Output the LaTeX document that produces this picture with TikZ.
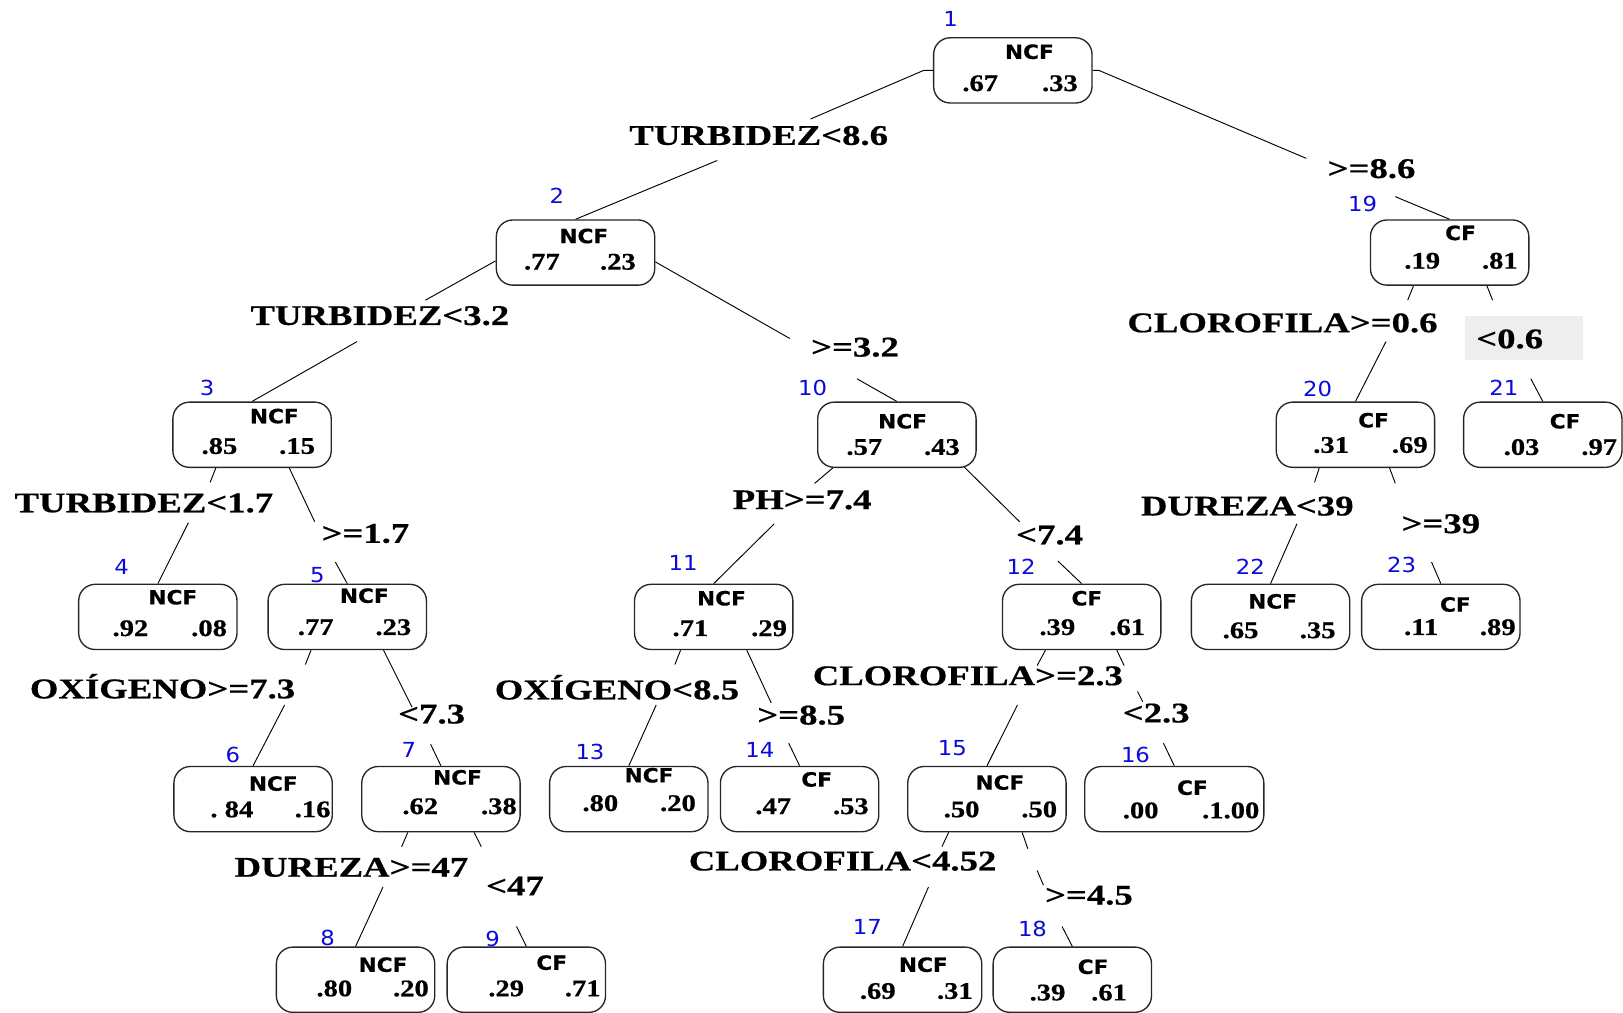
\documentclass[tikz,border=0pt]{standalone}
\usepackage{fontspec}
\usetikzlibrary{calc}
\newfontfamily\lblfont{Liberation Serif}[FakeStretch=1.29, BoldFeatures={FakeBold=0.6}]
\newfontfamily\numfont{Liberation Serif}[FakeStretch=1.2, BoldFeatures={FakeBold=0.7}]
\newfontfamily\clsfont{DejaVu Sans}[FakeStretch=1.1, BoldFeatures={FakeBold=0.5}]
\definecolor{idblue}{RGB}{10,10,220}
\definecolor{lblbg}{RGB}{238,238,238}
\pgfdeclarelayer{bg}
\pgfsetlayers{bg,main}
\tikzset{
  box/.style={draw=black!85, line width=1.3pt, rounded corners=16pt, fill=white,
    minimum width=153pt, minimum height=63pt, inner sep=0pt},
  cls/.style={font=\clsfont\bfseries\fontsize{19}{19}\selectfont, inner sep=0pt},
  num/.style={font=\numfont\bfseries\fontsize{23}{23}\selectfont, inner sep=0pt},
  idn/.style={font=\clsfont\fontsize{20}{20}\selectfont, text=idblue, inner sep=0pt},
  lbl/.style={font=\lblfont\bfseries\fontsize{27.5}{28}\selectfont, inner sep=0pt},
  edge/.style={line width=0.9pt, draw=black},
}
\begin{document}
\begin{tikzpicture}[x=1pt,y=-1pt]
\useasboundingbox (0,0) rectangle (1568,978);
% ---- boxes
\node[box] (n1) at (978.5,68) {};
\node[box] (n2) at (556,244) {};
\node[box] (n3) at (243.5,420) {};
\node[box] (n4) at (152.5,596) {};
\node[box] (n5) at (335.5,596) {};
\node[box] (n6) at (244.5,772) {};
\node[box] (n7) at (426,772) {};
\node[box] (n8) at (343.5,946.5) {};
\node[box] (n9) at (508.5,946.5) {};
\node[box] (n10) at (866.5,420) {};
\node[box] (n11) at (689.5,596) {};
\node[box] (n12) at (1045,596) {};
\node[box] (n13) at (607.5,772) {};
\node[box] (n14) at (772.5,772) {};
\node[box] (n15) at (953.5,772) {};
\node[box,minimum width=173pt] (n16) at (1134.5,772) {};
\node[box] (n17) at (872,946.5) {};
\node[box] (n18) at (1036,946.5) {};
\node[box] (n19) at (1400.5,244) {};
\node[box] (n20) at (1309.5,420) {};
\node[box] (n21) at (1490.5,420) {};
\node[box] (n22) at (1227.5,596) {};
\node[box] (n23) at (1392,596) {};
% ---- box texts
\node[cls] (c1) at (994.5,50) {NCF}; \node[num] (l1) at (947,80.5) {.67}; \node[num] (r1) at (1024,80.5) {.33};
\node[cls] (c2) at (564,228) {NCF}; \node[num] (l2) at (523.5,253) {.77}; \node[num] (r2) at (597,253) {.23};
\node[cls] (c3) at (265,402) {NCF}; \node[num] (l3) at (212,431) {.85}; \node[num] (r3) at (287,431) {.15};
\node[cls] (c4) at (167,577) {NCF}; \node[num] (l4) at (126,607) {.92}; \node[num] (r4) at (202,607) {.08};
\node[cls] (c5) at (352,575.5) {NCF}; \node[num] (l5) at (305,606) {.77}; \node[num] (r5) at (380,606) {.23};
\node[cls] (c6) at (264,757) {NCF}; \node[num] (l6) at (224,782) {.\ 84}; \node[num] (r6) at (302,782) {.16};
\node[cls] (c7) at (442,751) {NCF}; \node[num] (l7) at (406,779) {.62}; \node[num] (r7) at (482,779) {.38};
\node[cls] (c8) at (370,932) {NCF}; \node[num] (l8) at (323,955) {.80}; \node[num] (r8) at (397,955) {.20};
\node[cls] (c9) at (533,930) {CF}; \node[num] (l9) at (489,955) {.29}; \node[num] (r9) at (563,955) {.71};
\node[cls] (c10) at (872,407) {NCF}; \node[num] (l10) at (835,432) {.57}; \node[num] (r10) at (910,432) {.43};
\node[cls] (c11) at (697,578) {NCF}; \node[num] (l11) at (667,607) {.71}; \node[num] (r11) at (743,607) {.29};
\node[cls] (c12) at (1050,578) {CF}; \node[num] (l12) at (1021.5,606) {.39}; \node[num] (r12) at (1089,606) {.61};
\node[cls] (c13) at (627,749) {NCF}; \node[num] (l13) at (580,776) {.80}; \node[num] (r13) at (655,776) {.20};
\node[cls] (c14) at (789,753) {CF}; \node[num] (l14) at (747,779) {.47}; \node[num] (r14) at (822,779) {.53};
\node[cls] (c15) at (966,756) {NCF}; \node[num] (l15) at (929,782) {.50}; \node[num] (r15) at (1004,782) {.50};
\node[cls] (c16) at (1152,761) {CF}; \node[num] (l16) at (1102,783) {.00}; \node[num] (r16) at (1189,783) {.1.00};
\node[cls] (c17) at (892,932) {NCF}; \node[num] (l17) at (848,957.5) {.69}; \node[num] (r17) at (922.5,957.5) {.31};
\node[cls] (c18) at (1056,934) {CF}; \node[num] (l18) at (1012,959) {.39}; \node[num] (r18) at (1071.5,959) {.61};
\node[cls] (c19) at (1411,225) {CF}; \node[num] (l19) at (1374,252) {.19}; \node[num] (r19) at (1449,252) {.81};
\node[cls] (c20) at (1327,406) {CF}; \node[num] (l20) at (1286,430) {.31}; \node[num] (r20) at (1362,430) {.69};
\node[cls] (c21) at (1512,407) {CF}; \node[num] (l21) at (1470,432) {.03}; \node[num] (r21) at (1545,432) {.97};
\node[cls] (c22) at (1229.5,581) {NCF}; \node[num] (l22) at (1198.5,609) {.65}; \node[num] (r22) at (1273,609) {.35};
\node[cls] (c23) at (1406,584) {CF}; \node[num] (l23) at (1373,606) {.11}; \node[num] (r23) at (1447,606) {.89};
% ---- node ids
\node[idn] (i1) at (918.5,18) {1};
\node[idn] (i2) at (538,189.5) {2};
\node[idn] (i3) at (200,375) {3};
\node[idn] (i4) at (117.5,548) {4};
\node[idn] (i5) at (306.5,556) {5};
\node[idn] (i6) at (225,729) {6};
\node[idn] (i7) at (395,725) {7};
\node[idn] (i8) at (316.5,906) {8};
\node[idn] (i9) at (476,907.5) {9};
\node[idn] (i10) at (785,375) {10};
\node[idn] (i11) at (660,544) {11};
\node[idn] (i12) at (986.5,548) {12};
\node[idn] (i13) at (570,726) {13};
\node[idn] (i14) at (734,725) {14};
\node[idn] (i15) at (920,723) {15};
\node[idn] (i16) at (1097,729.5) {16};
\node[idn] (i17) at (838,896) {17};
\node[idn] (i18) at (997.5,897) {18};
\node[idn] (i19) at (1316.5,197.5) {19};
\node[idn] (i20) at (1273,376) {20};
\node[idn] (i21) at (1453,375) {21};
\node[idn] (i22) at (1208,548) {22};
\node[idn] (i23) at (1354,546) {23};
% ---- split labels
\node[lbl] (s12) at (733,131) {TURBIDEZ<8.6};
\node[lbl] (s119) at (1325,163) {>=8.6};
\node[lbl] (s23) at (367,305) {TURBIDEZ<3.2};
\node[lbl] (s210) at (826,335.5) {>=3.2};
\node[lbl] (s1920) at (1239,312) {CLOROFILA>=0.6};
\node[fill=lblbg, minimum width=114pt, minimum height=43pt, inner sep=0pt] (s1921bg) at (1472,326.5) {};
\node[lbl] (s1921) at (1458.5,327.5) {<0.6};
\node[lbl] (s34) at (139,486) {TURBIDEZ<1.7};
\node[lbl] (s35) at (353,515.5) {>=1.7};
\node[lbl] (s1011) at (775,483) {PH>=7.4};
\node[lbl] (s1012) at (1014,517) {<7.4};
\node[lbl] (s2022) at (1205,489) {DUREZA<39};
\node[lbl] (s2023) at (1392,506) {>=39};
\node[lbl] (s56) at (157,663) {OXÍGENO>=7.3};
\node[lbl] (s57) at (417,690) {<7.3};
\node[lbl] (s1113) at (596,664) {OXÍGENO<8.5};
\node[lbl] (s1114) at (774,691) {>=8.5};
\node[lbl] (s1215) at (935,653) {CLOROFILA>=2.3};
\node[lbl] (s1216) at (1117,689) {<2.3};
\node[lbl] (s78) at (339.5,838) {DUREZA>=47};
\node[lbl] (s79) at (497.5,856) {<47};
\node[lbl] (s1517) at (814,832) {CLOROFILA<4.52};
\node[lbl] (s1518) at (1052,865) {>=4.5};
% ---- gap coordinates
\coordinate (g12a) at (783,115); \coordinate (g12b) at (693,155);
\coordinate (g119a) at (1262,153); \coordinate (g119b) at (1348,190);
\coordinate (g23a) at (411,290); \coordinate (g23b) at (345,330);
\coordinate (g210a) at (763,327); \coordinate (g210b) at (828,366);
\coordinate (g34a) at (203,466); \coordinate (g34b) at (182,505);
\coordinate (g35a) at (304,504); \coordinate (g35b) at (324,543);
\coordinate (g1011a) at (787,467); \coordinate (g1011b) at (748,506);
\coordinate (g1012a) at (985,504); \coordinate (g1012b) at (1022,542);
\coordinate (g1920a) at (1360,290); \coordinate (g1920b) at (1339,330);
\coordinate (g1921a) at (1442,290); \coordinate (g1921b) at (1479,366);
\coordinate (g2022a) at (1270,466); \coordinate (g2022b) at (1253,506);
\coordinate (g2023a) at (1348,467); \coordinate (g2023b) at (1383,543);
\coordinate (g56a) at (295,642); \coordinate (g56b) at (275,681);
\coordinate (g57a) at (398,683); \coordinate (g57b) at (416,719);
\coordinate (g1113a) at (652,642); \coordinate (g1113b) at (634,681);
\coordinate (g1114a) at (745,679); \coordinate (g1114b) at (762,718);
\coordinate (g1215a) at (1002,643); \coordinate (g1215b) at (983,681);
\coordinate (g1216a) at (1086,643); \coordinate (g1216c) at (1099,668);
\coordinate (g1216d) at (1104,678); \coordinate (g1216b) at (1124,718);
\coordinate (g78a) at (388,818); \coordinate (g78b) at (370,857);
\coordinate (g79a) at (465,818); \coordinate (g79b) at (499,895);
\coordinate (g1517a) at (910,818); \coordinate (g1517b) at (897,857);
\coordinate (g1518a) at (993,820); \coordinate (g1518c) at (1002,841);
\coordinate (g1518d) at (1008,855); \coordinate (g1518b) at (1026,895);
% ---- connectors
\begin{pgfonlayer}{bg}
\draw[edge] (n1.west) -- ++(-9,0) -- (g12a); \draw[edge] (g12b) -- (n2.north);
\draw[edge] (n1.east) -- ++(6,0) -- (g119a); \draw[edge] (g119b) -- (n19.north);
\draw[edge] ($(n2.west)+(0,8)$) -- (g23a); \draw[edge] (g23b) -- (n3.north);
\draw[edge] ($(n2.east)+(0,9)$) -- (g210a); \draw[edge] (g210b) -- (n10.north);
\draw[edge] ($(n3.south)+(-35,0)$) -- (g34a); \draw[edge] (g34b) -- (n4.north);
\draw[edge] ($(n3.south)+(36,0)$) -- (g35a); \draw[edge] (g35b) -- (n5.north);
\draw[edge] ($(n10.south)+(-62,0)$) -- (g1011a); \draw[edge] (g1011b) -- (n11.north);
\draw[edge] ($(n10.south)+(64,-2)$) -- (g1012a); \draw[edge] (g1012b) -- (n12.north);
\draw[edge] ($(n19.south)+(-35,0)$) -- (g1920a); \draw[edge] (g1920b) -- (n20.north);
\draw[edge] ($(n19.south)+(36,0)$) -- (g1921a); \draw[edge] (g1921b) -- (n21.north);
\draw[edge] ($(n20.south)+(-35,0)$) -- (g2022a); \draw[edge] (g2022b) -- (n22.north);
\draw[edge] ($(n20.south)+(33,0)$) -- (g2023a); \draw[edge] (g2023b) -- (n23.north);
\draw[edge] ($(n5.south)+(-35,0)$) -- (g56a); \draw[edge] (g56b) -- (n6.north);
\draw[edge] ($(n5.south)+(35,0)$) -- (g57a); \draw[edge] (g57b) -- (n7.north);
\draw[edge] ($(n11.south)+(-32,0)$) -- (g1113a); \draw[edge] (g1113b) -- (n13.north);
\draw[edge] ($(n11.south)+(32,0)$) -- (g1114a); \draw[edge] (g1114b) -- (n14.north);
\draw[edge] ($(n12.south)+(-35,0)$) -- (g1215a); \draw[edge] (g1215b) -- (n15.north);
\draw[edge] ($(n12.south)+(34,0)$) -- (g1216a); \draw[edge] (g1216c) -- (g1216d);
\draw[edge] (g1216b) -- (n16.north);
\draw[edge] ($(n7.south)+(-32,0)$) -- (g78a); \draw[edge] (g78b) -- (n8.north);
\draw[edge] ($(n7.south)+(32,0)$) -- (g79a); \draw[edge] (g79b) -- (n9.north);
\draw[edge] ($(n15.south)+(-37,0)$) -- (g1517a); \draw[edge] (g1517b) -- (n17.north);
\draw[edge] ($(n15.south)+(34,0)$) -- (g1518a); \draw[edge] (g1518c) -- (g1518d);
\draw[edge] (g1518b) -- (n18.north);
\end{pgfonlayer}
\end{tikzpicture}
\end{document}
